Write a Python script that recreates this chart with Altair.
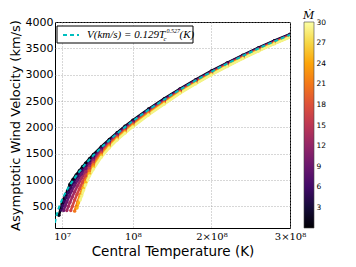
import altair as alt
import pandas as pd

# ---------------- data (T in units of 1e7 K, V in km/s) ----------------
mdot_values = [1, 5, 9, 13, 17, 21, 25, 29]

t_high = [4.5, 5, 6, 7, 8, 9, 10, 12, 14, 16, 18, 20, 22, 24, 26, 28, 30]

t_low_m1 = [0.6, 0.8, 1.0, 1.2, 1.4, 1.7, 2.0, 2.4, 2.8, 3.2, 3.6, 4.0]
v_low_m1 = [330, 440, 545, 630, 700, 800, 920, 1014, 1099, 1178, 1252, 1323]
v_high_m1 = [1407, 1486, 1635, 1772, 1900, 2021, 2135, 2349, 2546, 2731, 2905, 3070, 3225, 3372, 3514, 3646, 3768]

t_low_m5 = [0.9, 1.1, 1.3, 1.5, 1.8, 2.1, 2.5, 3.0, 3.5, 4.0]
v_low_m5 = [430, 520, 600, 670, 770, 860, 960, 1080, 1190, 1280]
v_high_m5 = [1361, 1447, 1607, 1749, 1880, 2003, 2117, 2333, 2531, 2719, 2894, 3059, 3215, 3363, 3505, 3637, 3760]

t_low_m9 = [1.2, 1.4, 1.6, 1.9, 2.2, 2.6, 3.0, 3.5, 4.0]
v_low_m9 = [420, 510, 585, 690, 790, 900, 1000, 1120, 1220]
v_high_m9 = [1312, 1406, 1577, 1725, 1859, 1983, 2099, 2316, 2515, 2706, 2882, 3048, 3205, 3353, 3495, 3628, 3751]

t_low_m13 = [1.6, 1.8, 2.0, 2.3, 2.6, 3.0, 3.5, 4.0]
v_low_m13 = [420, 500, 575, 680, 780, 900, 1040, 1160]
v_high_m13 = [1266, 1367, 1549, 1702, 1840, 1965, 2081, 2300, 2500, 2694, 2871, 3038, 3195, 3344, 3486, 3619, 3743]

t_low_m17 = [2.1, 2.3, 2.6, 2.9, 3.2, 3.6, 4.0]
v_low_m17 = [420, 500, 620, 730, 830, 960, 1080]
v_high_m17 = [1221, 1329, 1521, 1680, 1820, 1946, 2064, 2284, 2486, 2683, 2859, 3027, 3185, 3334, 3478, 3611, 3735]

t_low_m21 = [2.6, 2.8, 3.0, 3.3, 3.6, 4.0]
v_low_m21 = [410, 500, 590, 720, 840, 1000]
v_high_m21 = [1175, 1290, 1493, 1657, 1801, 1928, 2046, 2268, 2471, 2671, 2848, 3017, 3175, 3325, 3469, 3602, 3727]

t_low_m25 = [2.9, 3.1, 3.4, 3.7, 4.0]
v_low_m25 = [470, 570, 710, 840, 960]
v_high_m25 = [1126, 1249, 1463, 1633, 1780, 1908, 2027, 2251, 2455, 2658, 2836, 3005, 3165, 3315, 3459, 3593, 3718]

t_low_m29 = [3.3, 3.5, 3.75, 4.0, 4.25]
v_low_m29 = [620, 700, 810, 910, 1000]
v_high_m29 = [1080, 1210, 1435, 1610, 1760, 1890, 2010, 2235, 2440, 2646, 2825, 2995, 3155, 3306, 3450, 3584, 3710]

fit_t = [0.1, 0.2, 0.3, 0.5, 0.7, 1, 1.5, 2, 3, 4, 5, 6, 8, 10, 12, 15, 18, 21, 24, 27, 30]
fit_v = [187, 270, 334, 437, 522, 630, 780, 908, 1125, 1308, 1471, 1620, 1885, 2120, 2334, 2625, 2890, 3134, 3358, 3568, 3755]

x_tick_values = [1e7, 1e8, 2e8, 3e8]
x_tick_labels = ["10\u2077", "10\u2078", "2\u00d710\u2078", "3\u00d710\u2078"]
y_tick_values = [500, 1000, 1500, 2000, 2500, 3000, 3500, 4000]
cbar_ticks = [3, 6, 9, 12, 15, 18, 21, 24, 27, 30]
cbar_range = [0, 30]
inferno_stops = ["#000004", "#160b39", "#420a68", "#6a176e", "#932667", "#bc3754",
                 "#dd513a", "#f37819", "#fca50a", "#f6d746", "#fcffa4"]

series = [
    (1, t_low_m1, v_low_m1, v_high_m1),
    (5, t_low_m5, v_low_m5, v_high_m5),
    (9, t_low_m9, v_low_m9, v_high_m9),
    (13, t_low_m13, v_low_m13, v_high_m13),
    (17, t_low_m17, v_low_m17, v_high_m17),
    (21, t_low_m21, v_low_m21, v_high_m21),
    (25, t_low_m25, v_low_m25, v_high_m25),
    (29, t_low_m29, v_low_m29, v_high_m29),
]

rows = []
for m, tl, vl, vh in series:
    for t, v in zip(tl + t_high, vl + vh):
        rows.append({"T": t * 1e7, "V": v, "Mdot": m})
df = pd.DataFrame(rows)
fit_df = pd.DataFrame({"T": [t * 1e7 for t in fit_t], "V": fit_v})
one = pd.DataFrame({"a": [0]})
cb_df = pd.DataFrame({"lo": [cbar_range[0]], "hi": [cbar_range[1]]})

# ---------------- main panel ----------------
label_expr = " : ".join(
    f"datum.value == {int(v)} ? '{l}'" for v, l in zip(x_tick_values[:-1], x_tick_labels[:-1])
) + f" : '{x_tick_labels[-1]}'"

x_enc = alt.X(
    "T:Q",
    scale=alt.Scale(domain=[1e6, 3e8], nice=False, zero=False),
    axis=alt.Axis(
        values=x_tick_values, labelExpr=label_expr, title="Central Temperature (K)",
        labelFont="DejaVu Serif", labelFontSize=10, labelPadding=3, labelFlush=False,
        titleFont="DejaVu Sans", titleFontSize=13.5, titleFontWeight="normal", titlePadding=3,
        grid=True,
    ),
)
y_enc = alt.Y(
    "V:Q",
    scale=alt.Scale(domain=[90, 4000], nice=False, zero=False),
    axis=alt.Axis(
        values=y_tick_values, format="d", title="Asymptotic Wind Velocity (km/s)",
        labelFont="DejaVu Sans", labelFontSize=11, labelPadding=2,
        titleFont="DejaVu Sans", titleFontSize=13, titleFontWeight="normal", titlePadding=3,
        grid=True,
    ),
)
cscale = alt.Scale(scheme="inferno", domain=cbar_range)

lines = alt.Chart(df).mark_line(strokeWidth=2.6, clip=True).encode(
    x=x_enc, y=y_enc, stroke=alt.Stroke("Mdot:Q", scale=cscale, legend=None),
    detail="Mdot:N", order="T:Q"
)
points = alt.Chart(df).mark_circle(size=11, opacity=1, clip=True).encode(
    x=x_enc, y=y_enc, fill=alt.Fill("Mdot:Q", scale=cscale, legend=None)
)
fit = alt.Chart(fit_df).mark_line(
    color="#00bfbf", strokeWidth=2, strokeDash=[4, 3], clip=True
).encode(x=x_enc, y=y_enc)

leg_box = alt.Chart(one).mark_rect(fill="white", stroke="black", strokeWidth=1).encode(
    x=alt.value(2), x2=alt.value(138), y=alt.value(4), y2=alt.value(21)
)
leg_line = alt.Chart(one).mark_rule(color="#00bfbf", strokeWidth=2, strokeDash=[4, 3]).encode(
    x=alt.value(8), x2=alt.value(24), y=alt.value(13)
)
txt_style = dict(font="Liberation Serif", fontStyle="italic", align="left", baseline="middle", color="black")
leg_t1 = alt.Chart(one).mark_text(text="V(km/s)\u00a0=\u00a00.129T", fontSize=11, **txt_style).encode(
    x=alt.value(32), y=alt.value(13)
)
leg_t2 = alt.Chart(one).mark_text(text="c", fontSize=6.5, **txt_style).encode(
    x=alt.value(108.5), y=alt.value(17)
)
leg_t3 = alt.Chart(one).mark_text(text="0.527", fontSize=6, **txt_style).encode(
    x=alt.value(111.5), y=alt.value(8.5)
)
leg_t4 = alt.Chart(one).mark_text(text="(K)", fontSize=11, **txt_style).encode(
    x=alt.value(124.5), y=alt.value(13)
)

main = alt.layer(lines, points, fit, leg_box, leg_line, leg_t1, leg_t2, leg_t3, leg_t4)

# ---------------- colorbar (own y scale, axis pushed to the right) ----------------
n = len(inferno_stops) - 1
grad = alt.Gradient(
    gradient="linear", x1=0, x2=0, y1=1, y2=0,
    stops=[alt.GradientStop(color=c, offset=i / n) for i, c in enumerate(inferno_stops)],
)
cbar = alt.Chart(cb_df).mark_rect(fill=grad, stroke="#444444", strokeWidth=0.6, clip=False).encode(
    x=alt.value(249), x2=alt.value(259),
    y=alt.Y("lo:Q", scale=alt.Scale(domain=cbar_range, nice=False, zero=False),
            axis=alt.Axis(orient="right", offset=24, values=cbar_ticks, title=None, grid=False,
                          labelFont="DejaVu Sans", labelFontSize=7.5, labelPadding=2,
                          ticks=False, domain=False)),
    y2="hi:Q",
)
cbar_title = alt.Chart(one).mark_text(
    text="\u1e40", font="DejaVu Serif", fontStyle="italic", fontSize=11,
    align="left", baseline="middle", color="black"
).encode(x=alt.value(248), y=alt.value(-6))

chart = alt.layer(main, cbar, cbar_title).resolve_scale(y="independent").properties(
    width=235, height=206,
    autosize=alt.AutoSizeParams(type="none"),
    padding={"left": 47, "top": 14, "right": 58, "bottom": 31},
).configure_view(
    stroke="black", strokeWidth=1
).configure_axis(
    gridDash=[1, 2], gridColor="#999999", gridWidth=0.8,
    domain=False, ticks=False, labelColor="black", titleColor="black",
)

chart.save("out.html", embed_options={"renderer": "svg", "actions": False})
